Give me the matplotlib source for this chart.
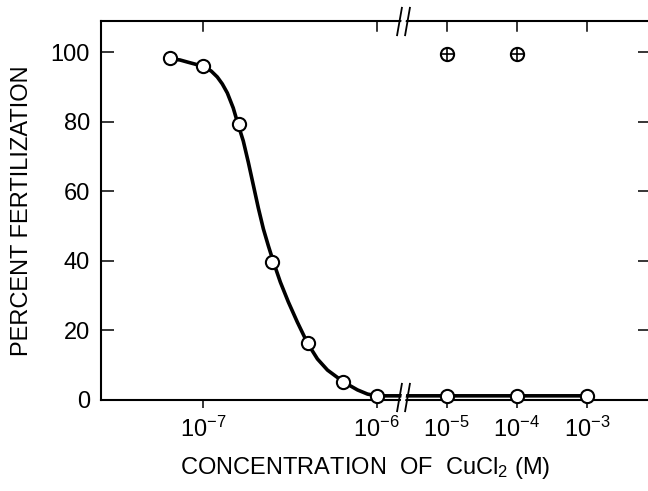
import numpy as np
import matplotlib
matplotlib.use("Agg")
import matplotlib.pyplot as plt
from matplotlib.path import Path

# ---- data ----
conc_pts = [6.4e-8, 1.0e-7, 1.6e-7, 2.5e-7, 4.0e-7, 6.4e-7, 1.0e-6, 1.0e-5, 1.0e-4, 1.0e-3]
fert_pts = [98.3, 96.0, 79.3, 39.8, 16.4, 5.2, 1.2, 1.2, 1.2, 1.2]

ctrl_conc = [1.0e-5, 1.0e-4]
ctrl_fert = [99.5, 99.5]

# smooth fitted curve (log10 of concentration, percent)
curve_log_conc = [-7.191, -7.135, -7.092, -7.040, -6.994, -6.954, -6.919, -6.890, -6.861,
                  -6.827, -6.798, -6.769, -6.740, -6.711, -6.682, -6.653, -6.624, -6.595,
                  -6.555, -6.509, -6.457, -6.399, -6.341, -6.283, -6.191, -6.110, -6.052,
                  -5.994, -3.0]
curve_fert = [98.1, 97.8, 97.2, 96.5, 95.8, 94.6, 92.9, 90.9, 88.3,
              84.0, 79.1, 74.5, 68.4, 61.8, 55.2, 49.2, 44.3, 39.7,
              33.9, 28.2, 22.4, 16.4, 11.8, 8.6, 5.2, 2.9, 1.7,
              1.2, 1.2]

xticks = [1e-7, 1e-6, 1e-5, 1e-4, 1e-3]
xtick_labels = [r"$10^{-7}$", r"$10^{-6}$", r"$10^{-5}$", r"$10^{-4}$", r"$10^{-3}$"]
yticks = [0, 20, 40, 60, 80, 100]
break_conc = 10 ** -5.62

plt.rcParams["font.family"] = ["Liberation Sans", "DejaVu Sans"]
plt.rcParams["mathtext.fontset"] = "custom"
plt.rcParams["mathtext.rm"] = "Liberation Sans"
plt.rcParams["mathtext.it"] = "Liberation Sans"

# ---- broken log scale: compressed decades above 1e-6 ----
K = 70.0 / 173.0

def fwd(x):
    x = np.asarray(x, dtype=float)
    lx = np.log10(np.clip(x, 1e-30, None))
    return np.where(lx <= -6, lx, -6 + (lx + 6) * K)

def inv(u):
    u = np.asarray(u, dtype=float)
    return np.where(u <= -6, 10 ** u, 10 ** (-6 + (u + 6) / K))

fig = plt.figure(figsize=(6.48, 4.91), dpi=100)
ax = fig.add_axes([101 / 648, 1 - 400 / 491, 549 / 648, 379 / 491])
ax.set_xscale("function", functions=(fwd, inv))
ax.set_xlim(10 ** -7.59, 10 ** -2.10)
ax.set_ylim(0, 109)

curve_conc = 10 ** np.array(curve_log_conc)
ax.plot(curve_conc, curve_fert, color="black", lw=2.6, solid_joinstyle="round", zorder=3, clip_on=False)
ax.plot(conc_pts, fert_pts, "o", ms=9.5, mfc="white", mec="black", mew=1.5, zorder=4, clip_on=False)
ax.plot(ctrl_conc, ctrl_fert, "o", ms=9.5, mfc="white", mec="black", mew=1.5, zorder=4)
ax.plot(ctrl_conc, ctrl_fert, "+", ms=9.5, mec="black", mew=1.2, zorder=5)

for s in ax.spines.values():
    s.set_linewidth(1.5)
ax.spines["right"].set_visible(False)

ax.set_xticks(xticks)
ax.set_xticklabels(xtick_labels, fontsize=17)
ax.xaxis.set_minor_locator(matplotlib.ticker.NullLocator())
ax.set_yticks(yticks)
ax.set_yticklabels([str(v) for v in yticks], fontsize=17)
ax.tick_params(axis="y", direction="in", length=9, width=1.1, pad=8, right=True)
ax.tick_params(axis="x", which="both", direction="out", length=6, width=1.1, pad=6, top=False)
for xv in xticks:
    ax.plot([xv, xv], [109, 109 - 2.8], color="black", lw=1.1, clip_on=False, zorder=2)

# break marks
tr = ax.get_xaxis_transform()
gap = Path([(-0.3, -1), (0.0, 1), (0.3, 1), (0.0, -1), (-0.3, -1)],
           [Path.MOVETO, Path.LINETO, Path.LINETO, Path.LINETO, Path.CLOSEPOLY])
sl = Path([(-0.45, -1), (-0.1, 1), (0.1, -1), (0.45, 1)],
          [Path.MOVETO, Path.LINETO, Path.MOVETO, Path.LINETO])
for yb in (0.008, 1.0):
    ax.plot([break_conc], [yb], marker=gap, ms=21, mfc="white", mec="white",
            mew=0, transform=tr, clip_on=False, zorder=6)
    ax.plot([break_conc], [yb], marker=sl, ms=21, mfc="none", mec="black",
            mew=1.3, transform=tr, clip_on=False, zorder=7)

ax.set_ylabel("PERCENT FERTILIZATION", fontsize=17)
ax.yaxis.set_label_coords(-0.124, 0.5)
fig.text(365 / 648, 1 - 474 / 491, r"CONCENTRATION  OF  CuCl$_2$ (M)", ha="center",
         va="baseline", fontsize=17)

fig.savefig("out.png", dpi=100)
